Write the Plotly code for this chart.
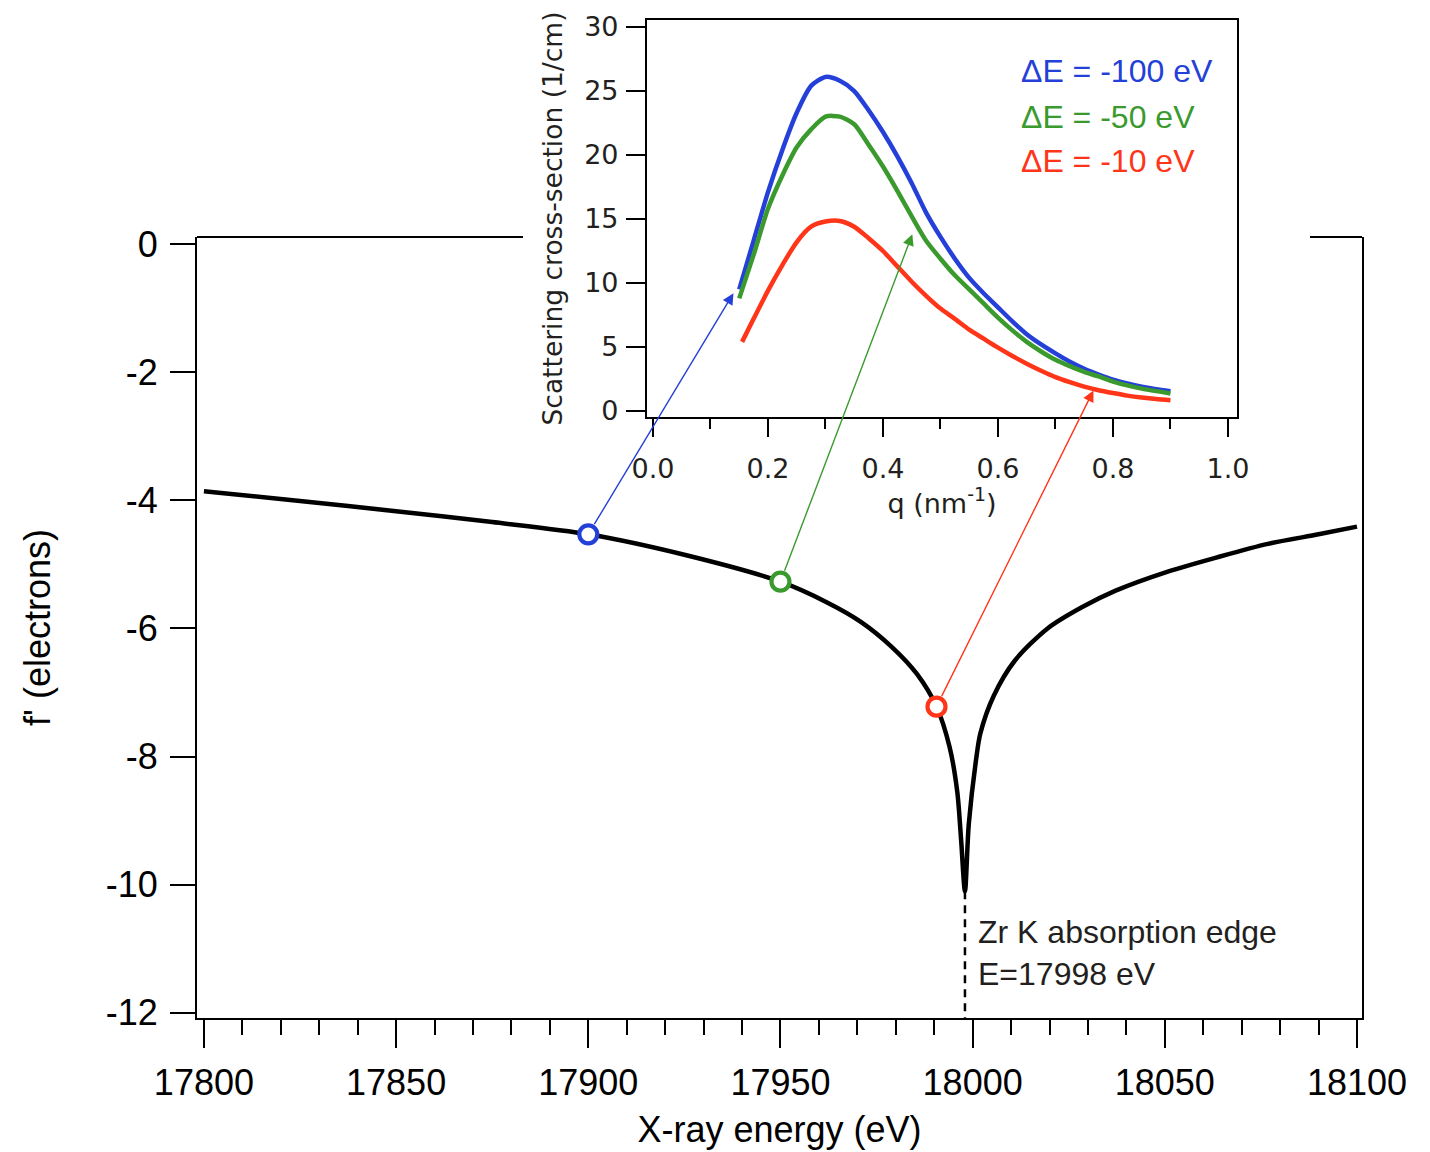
import plotly.graph_objects as go

# ---------------- data ----------------
energy = [17800, 17825, 17850, 17875, 17900, 17925, 17950, 17962, 17971, 17979,
          17985.5, 17990.6, 17994, 17996, 17997, 17998, 17999, 18001, 18002, 18005.5,
          18011, 18019.5, 18028.4, 18037.2, 18050.4, 18063.6, 18076.8, 18090, 18100]
f_prime = [-3.86, -4.01, -4.17, -4.34, -4.53, -4.85, -5.27, -5.59, -5.90, -6.29,
           -6.71, -7.22, -7.85, -8.55, -9.30, -10.10, -9.05, -8.00, -7.64, -7.05,
           -6.50, -6.00, -5.67, -5.41, -5.12, -4.89, -4.68, -4.53, -4.41]

marker_E = [17900, 17950, 17990.6]
marker_f = [-4.53, -5.27, -7.22]
series_names = ["ΔE = -100 eV", "ΔE = -50 eV", "ΔE = -10 eV"]
series_colors = ["#2440d8", "#3b9a2e", "#ff3519"]

q_grid = [0.15, 0.175, 0.20, 0.225, 0.25, 0.275, 0.30, 0.325, 0.35, 0.375, 0.40, 0.425,
          0.45, 0.475, 0.50, 0.525, 0.55, 0.575, 0.60, 0.625, 0.65, 0.675, 0.70, 0.725,
          0.75, 0.775, 0.80, 0.825, 0.85, 0.875, 0.90]
s_blue = [9.5, 13.3, 17.1, 20.4, 23.3, 25.4, 26.1, 25.8, 25.0, 23.5, 21.8, 19.9,
          17.8, 15.5, 13.6, 11.9, 10.4, 9.2, 8.1, 7.0, 6.0, 5.2, 4.5, 3.85,
          3.3, 2.85, 2.45, 2.15, 1.9, 1.7, 1.55]
s_green = [8.8, 12.2, 15.8, 18.4, 20.6, 22.0, 23.0, 23.0, 22.4, 20.8, 19.1, 17.2,
           15.2, 13.3, 11.9, 10.6, 9.5, 8.4, 7.3, 6.3, 5.4, 4.65, 4.0, 3.5,
           3.05, 2.7, 2.3, 2.0, 1.75, 1.55, 1.37]
q_red = [0.155, 0.175, 0.20, 0.225, 0.25, 0.275, 0.30, 0.325, 0.35, 0.375, 0.40, 0.425,
         0.45, 0.475, 0.50, 0.525, 0.55, 0.575, 0.60, 0.625, 0.65, 0.675, 0.70, 0.725,
         0.75, 0.775, 0.80, 0.825, 0.85, 0.875, 0.90]
s_red = [5.4, 7.2, 9.4, 11.4, 13.2, 14.4, 14.8, 14.85, 14.4, 13.5, 12.5, 11.3,
         10.1, 9.0, 8.0, 7.2, 6.35, 5.65, 4.95, 4.3, 3.7, 3.15, 2.65, 2.25,
         1.9, 1.62, 1.4, 1.2, 1.05, 0.93, 0.84]

arrow_q = [0.14, 0.451, 0.766]
arrow_s = [9.2, 13.8, 1.6]

edge_E = 17998
edge_f = -10.1

main_yticks = [0, -2, -4, -6, -8, -10, -12]
main_xticks = [17800, 17850, 17900, 17950, 18000, 18050, 18100]
inset_xticks = [0.0, 0.2, 0.4, 0.6, 0.8, 1.0]
inset_yticks = [0, 5, 10, 15, 20, 25, 30]

# ---------------- layout geometry ----------------
W, H = 1430, 1152
OFF = 8  # page body margin


def px_x(p):
    return (p - OFF) / W


def px_y(p):
    return 1 - (p - OFF) / H


main_xdom = [px_x(197), px_x(1362)]
main_ydom = [px_y(1018), px_y(237)]
main_xr = [17798.2, 18101.3]
main_yr = [-12.08, 0.11]
ins_xdom = [px_x(647), px_x(1237)]
ins_ydom = [px_y(417), px_y(20)]
ins_xr = [-0.0104, 1.0157]
ins_yr = [-0.47, 30.55]


def inset_to_main(q, s):
    fx = ins_xdom[0] + (q - ins_xr[0]) / (ins_xr[1] - ins_xr[0]) * (ins_xdom[1] - ins_xdom[0])
    fy = ins_ydom[0] + (s - ins_yr[0]) / (ins_yr[1] - ins_yr[0]) * (ins_ydom[1] - ins_ydom[0])
    E = main_xr[0] + (fx - main_xdom[0]) / (main_xdom[1] - main_xdom[0]) * (main_xr[1] - main_xr[0])
    f = main_yr[0] + (fy - main_ydom[0]) / (main_ydom[1] - main_ydom[0]) * (main_yr[1] - main_yr[0])
    return E, f


MAIN_FONT = "Liberation Sans, Arial, sans-serif"
INSET_FONT = "DejaVu Sans, Lato, sans-serif"
INK = "#231f20"

fig = go.Figure()

# main curve
fig.add_trace(go.Scatter(x=energy, y=f_prime, mode="lines",
                         line=dict(color="black", width=4.5, shape="spline", smoothing=0.8),
                         showlegend=False, hoverinfo="skip"))
# edge dashed line
fig.add_trace(go.Scatter(x=[edge_E, edge_E], y=[edge_f, main_yr[0]], mode="lines",
                         line=dict(color="black", width=2.5, dash="8px,6px"),
                         showlegend=False, hoverinfo="skip"))
# markers
fig.add_trace(go.Scatter(x=marker_E, y=marker_f, mode="markers",
                         marker=dict(size=18, color="white",
                                     line=dict(color=series_colors, width=4.2)),
                         showlegend=False, hoverinfo="skip"))

# inset curves
for q, s, c, n in zip([q_grid, q_grid, q_red], [s_blue, s_green, s_red], series_colors, series_names):
    fig.add_trace(go.Scatter(x=q, y=s, mode="lines", name=n, xaxis="x2", yaxis="y2",
                             line=dict(color=c, width=4.5, shape="spline", smoothing=0.7),
                             showlegend=False, hoverinfo="skip"))

annotations = []
# arrows
for E0, f0, q, s, c in zip(marker_E, marker_f, arrow_q, arrow_s, series_colors):
    hE, hf = inset_to_main(q, s)
    annotations.append(dict(x=hE, y=hf, xref="x", yref="y", ax=E0, ay=f0, axref="x", ayref="y",
                            showarrow=True, arrowhead=2, arrowsize=1.6, arrowwidth=1.4,
                            arrowcolor=c, startstandoff=10, text=""))
# legend text in inset
leg_y = [26.6, 23.0, 19.5]
for n, c, yy in zip(series_names, series_colors, leg_y):
    annotations.append(dict(x=0.636, y=yy, xref="x2", yref="y2", text=n, showarrow=False,
                            xanchor="left", yanchor="middle",
                            font=dict(family=MAIN_FONT, size=32, color=c)))
# edge label
annotations.append(dict(x=18000.8, y=-11.06, xref="x", yref="y",
                        text="Zr K absorption edge<br>E=17998 eV", showarrow=False,
                        xanchor="left", yanchor="middle", align="left",
                        font=dict(family=MAIN_FONT, size=32, color=INK)))

# top border of main plot, interrupted by inset
shapes = [
    dict(type="line", xref="paper", yref="paper", x0=main_xdom[0], x1=px_x(523),
         y0=main_ydom[1], y1=main_ydom[1], line=dict(color="black", width=2)),
    dict(type="line", xref="paper", yref="paper", x0=px_x(1310), x1=main_xdom[1],
         y0=main_ydom[1], y1=main_ydom[1], line=dict(color="black", width=2)),
]

fig.update_layout(
    width=W, height=H, margin=dict(l=0, r=0, t=0, b=0, autoexpand=False),
    paper_bgcolor="white", plot_bgcolor="white",
    showlegend=False,
    xaxis=dict(domain=main_xdom, range=main_xr, anchor="y", automargin=False,
               showline=True, linecolor="black", linewidth=2, mirror=False,
               showgrid=False, zeroline=False,
               ticks="outside", ticklen=28, tickwidth=2, tickcolor="black",
               tickvals=main_xticks, ticktext=[str(v) for v in main_xticks],
               ticklabelstandoff=4,
               minor=dict(ticks="outside", ticklen=15, tickwidth=2, tickcolor="black",
                          dtick=10, tick0=17800, showgrid=False),
               tickfont=dict(family=MAIN_FONT, size=36, color="black"),
               title=dict(text="X-ray energy (eV)", standoff=15,
                          font=dict(family=MAIN_FONT, size=36, color="black"))),
    yaxis=dict(domain=main_ydom, range=main_yr, anchor="x", automargin=False,
               showline=True, linecolor="black", linewidth=2, mirror=True,
               showgrid=False, zeroline=False,
               ticks="outside", ticklen=25, tickwidth=2, tickcolor="black",
               tickvals=main_yticks, ticktext=[str(v) for v in main_yticks],
               ticklabelstandoff=5,
               tickfont=dict(family=MAIN_FONT, size=36, color="black"),
               title=dict(text="f' (electrons)", standoff=44,
                          font=dict(family=MAIN_FONT, size=36, color="black"))),
    xaxis2=dict(domain=ins_xdom, range=ins_xr, anchor="y2", automargin=False,
                showline=True, linecolor="black", linewidth=2.2, mirror=True,
                showgrid=False, zeroline=False,
                ticks="outside", ticklen=18, tickwidth=2, tickcolor="black",
                tickvals=inset_xticks, ticktext=["%.1f" % v for v in inset_xticks],
                ticklabelstandoff=8,
                minor=dict(ticks="outside", ticklen=10, tickwidth=2, tickcolor="black",
                           dtick=0.1, tick0=0, showgrid=False),
                tickfont=dict(family=INSET_FONT, size=27, color=INK),
                title=dict(text="q (nm<sup>-1</sup>)", standoff=11,
                           font=dict(family=INSET_FONT, size=27, color=INK))),
    yaxis2=dict(domain=ins_ydom, range=ins_yr, anchor="x2", automargin=False,
                showline=True, linecolor="black", linewidth=2.2, mirror=True,
                showgrid=False, zeroline=False,
                ticks="outside", ticklen=19, tickwidth=2, tickcolor="black",
                tickvals=inset_yticks, ticktext=[str(v) for v in inset_yticks],
                ticklabelstandoff=2,
                tickfont=dict(family=INSET_FONT, size=27, color=INK),
                title=dict(text="Scattering cross-section (1/cm)", standoff=14,
                           font=dict(family=INSET_FONT, size=26.5, color=INK))),
    annotations=annotations,
    shapes=shapes,
)

fig.write_html("out.html")
